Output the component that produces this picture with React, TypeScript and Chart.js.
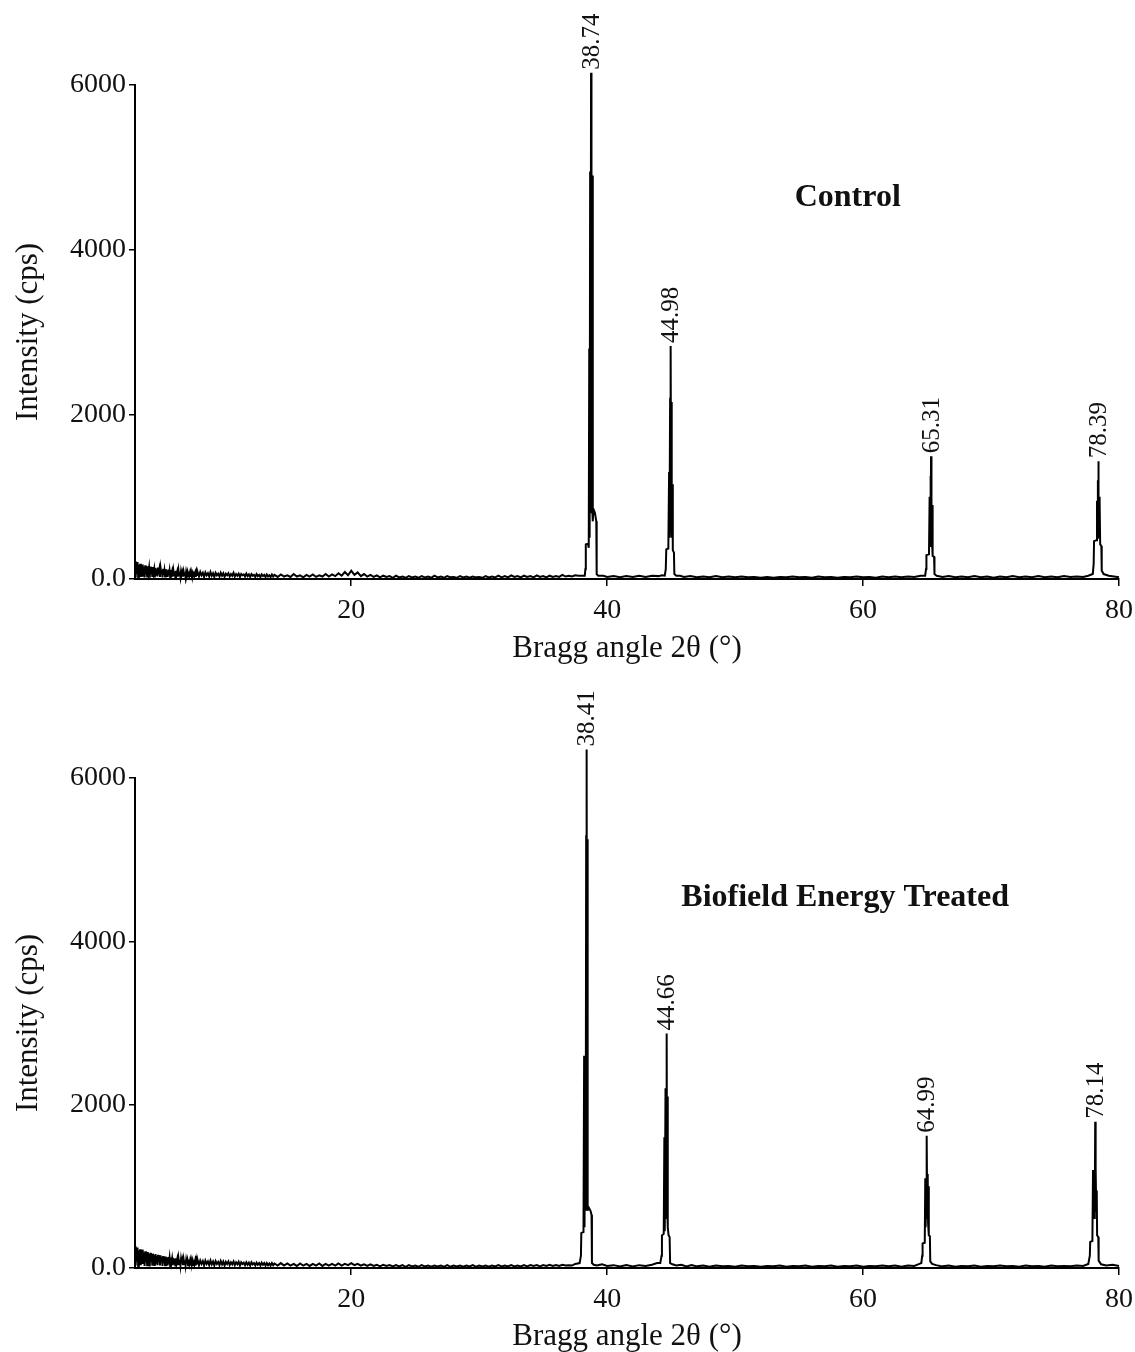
import React, { useEffect, useRef } from 'react';
import { Chart, registerables } from 'chart.js';

Chart.register(...registerables);

const FONT = "'Liberation Serif', 'Times New Roman', Times, serif";

// ---------- shared axis definitions ----------
const xAxisMin = 3.1;
const xAxisMax = 80;
const xTickStep = 20;
const yAxisMax = 6000;
const yTickStep = 2000;
const xTitle = 'Bragg angle 2θ (°)';
const yTitle = 'Intensity (cps)';

// ---------- Control ----------
const controlBackground: [number, number][] = [
  [3.10, 215], [3.15, 20], [3.20, 190], [3.25, 60], [3.30, 205], [3.35, 15], [3.40, 170], [3.45, 90], [3.50, 185], [3.55, 25],
  [3.60, 160], [3.65, 40], [3.70, 175], [3.75, 70], [3.80, 150], [3.85, 20], [3.90, 165], [3.95, 55], [4.00, 140], [4.05, 30],
  [4.10, 155], [4.15, 80], [4.20, 135], [4.25, 15], [4.30, 150], [4.35, 60], [4.40, 130], [4.45, 35], [4.50, 145], [4.55, 75],
  [4.60, 120], [4.65, 20], [4.70, 135], [4.75, 55], [4.80, 125], [4.85, 30], [4.90, 140], [4.95, 65], [5.00, 115], [5.05, 25],
  [5.10, 130], [5.15, 70], [5.20, 110], [5.25, 20], [5.30, 125], [5.35, 50], [5.40, 105], [5.45, 30], [5.50, 120], [5.55, 65],
  [5.60, 100], [5.65, 25], [5.70, 115], [5.75, 45], [5.80, 100], [5.85, 20], [5.90, 110], [5.95, 60], [6.00, 95], [6.05, 30],
  [6.10, 105], [6.15, 50], [6.20, 90], [6.25, 25], [6.30, 100], [6.35, 55], [6.40, 90], [6.45, 30], [6.50, 105], [6.55, 45],
  [6.60, 85], [6.65, 25], [6.70, 95], [6.75, 55], [6.80, 85], [6.85, 30], [6.90, 90], [6.95, 45], [7.00, 80], [7.05, 25],
  [7.10, 90], [7.15, 50], [7.20, 85], [7.25, 30], [7.30, 95], [7.35, 45], [7.40, 80], [7.45, 25], [7.50, 85], [7.55, 50],
  [7.60, 75], [7.65, 30], [7.70, 90], [7.75, 45], [7.80, 75], [7.85, 25], [7.90, 85], [7.95, 50],
  [8.0, 80], [8.1, 30], [8.2, 85], [8.3, 45], [8.4, 75], [8.5, 25], [8.6, 80], [8.7, 45], [8.8, 70], [8.9, 30],
  [9.0, 85], [9.1, 40], [9.2, 70], [9.3, 25], [9.4, 75], [9.5, 45], [9.6, 65], [9.7, 30], [9.8, 75], [9.9, 40],
  [10.0, 70], [10.1, 25], [10.2, 65], [10.3, 45], [10.4, 70], [10.5, 30], [10.6, 60], [10.7, 40], [10.8, 75], [10.9, 30],
  [11.0, 60], [11.1, 40], [11.2, 65], [11.3, 25], [11.4, 60], [11.5, 45], [11.6, 55], [11.7, 30], [11.8, 65], [11.9, 35],
  [12.0, 55], [12.1, 25], [12.2, 60], [12.3, 40], [12.4, 50], [12.5, 25], [12.6, 60], [12.7, 35], [12.8, 50], [12.9, 25],
  [13.0, 55], [13.1, 35], [13.2, 50], [13.3, 25], [13.4, 55], [13.5, 30], [13.6, 45], [13.7, 25], [13.8, 55], [13.9, 30],
  [14.0, 50], [14.25, 25], [14.5, 55], [14.75, 30], [15.0, 45], [15.25, 25], [15.5, 60], [15.75, 30], [16.0, 45], [16.25, 20],
  [16.5, 50], [16.75, 30], [17.0, 55], [17.25, 25], [17.5, 45], [17.75, 30], [18.0, 60], [18.25, 30], [18.5, 55], [18.75, 35],
  [19.0, 70], [19.25, 40], [19.5, 85], [19.75, 45], [20.0, 100], [20.25, 50], [20.5, 80], [20.75, 35], [21.0, 60], [21.25, 30],
  [21.5, 50], [21.75, 25], [22.0, 45], [22.25, 20], [22.5, 40], [22.75, 25], [23.0, 35], [23.25, 15], [23.5, 40], [23.75, 20],
  [24.0, 30], [24.25, 15], [24.5, 35], [24.75, 20], [25.0, 30], [25.25, 15], [25.5, 35], [25.75, 20], [26.0, 30], [26.25, 15],
  [26.5, 40], [26.75, 20], [27.0, 30], [27.25, 15], [27.5, 35], [27.75, 20], [28.0, 25], [28.25, 15], [28.5, 35], [28.75, 20],
  [29.0, 30], [29.25, 15], [29.5, 30], [29.75, 20], [30.0, 25], [30.25, 15], [30.5, 35], [30.75, 20], [31.0, 30], [31.25, 20],
  [31.5, 40], [31.75, 20], [32.0, 35], [32.25, 20], [32.5, 45], [32.75, 25], [33.0, 35], [33.25, 20], [33.5, 40], [33.75, 25],
  [34.0, 35], [34.25, 20], [34.5, 45], [34.75, 25], [35.0, 35], [35.25, 20], [35.5, 40], [35.75, 25], [36.0, 35], [36.25, 25],
  [36.5, 50], [36.75, 30], [37.0, 40], [37.25, 30], [37.5, 45], [37.75, 40],
  [39.7, 40], [40.0, 25], [40.5, 35], [41.0, 20], [41.5, 35], [42.0, 25], [42.5, 40], [43.0, 25], [43.5, 40], [44.0, 35],
  [44.3, 45],
  [45.7, 40], [46.0, 25], [46.5, 35], [47.0, 20], [47.5, 30], [48.0, 20], [48.5, 35], [49.0, 20], [49.5, 30], [50.0, 20],
  [50.5, 30], [51.0, 20], [51.5, 25], [52.0, 15], [52.5, 25], [53.0, 15], [53.5, 25], [54.0, 20], [54.5, 30], [55.0, 20],
  [55.5, 25], [56.0, 15], [56.5, 30], [57.0, 20], [57.5, 25], [58.0, 15], [58.5, 25], [59.0, 20], [59.5, 30], [60.0, 20],
  [60.5, 25], [61.0, 15], [61.5, 30], [62.0, 20], [62.5, 30], [63.0, 20], [63.5, 30], [64.0, 25], [64.5, 40],
  [66.2, 25], [66.7, 35], [67.2, 20], [67.7, 30], [68.2, 20], [68.7, 35], [69.2, 20], [69.7, 30], [70.2, 15], [70.7, 30],
  [71.2, 20], [71.7, 35], [72.2, 20], [72.7, 30], [73.2, 20], [73.7, 35], [74.2, 20], [74.7, 30], [75.2, 20], [75.7, 35],
  [76.2, 25], [76.7, 30], [77.2, 25], [77.6, 40],
  [79.2, 40], [79.6, 30], [80.0, 20],
];

const controlPeaks: [number, number][] = [
  [38.25, 40], [38.3, 120], [38.33, 420], [38.5, 430], [38.56, 380], [38.6, 2800], [38.63, 500], [38.67, 4950],
  [38.7, 800], [38.74, 6150], [38.76, 1000], [38.79, 5000], [38.82, 900], [38.86, 4900], [38.89, 700], [38.93, 850],
  [39.05, 800], [39.15, 700], [39.18, 60], [39.3, 40],
  [44.5, 40], [44.58, 120], [44.62, 360], [44.78, 370], [44.84, 1300], [44.87, 500], [44.92, 2200], [44.94, 600],
  [44.98, 2830], [45.0, 700], [45.03, 2150], [45.06, 500], [45.1, 1150], [45.13, 350], [45.22, 320], [45.25, 60], [45.4, 40],
  [64.85, 40], [64.92, 120], [64.95, 290], [65.15, 300], [65.2, 1000], [65.23, 400], [65.27, 1250], [65.29, 500],
  [65.31, 1490], [65.33, 600], [65.36, 880], [65.39, 450], [65.42, 900], [65.45, 280], [65.55, 270], [65.58, 60], [65.75, 40],
  [77.95, 60], [78.02, 180], [78.05, 460], [78.24, 470], [78.28, 950], [78.31, 500], [78.35, 1200], [78.37, 600],
  [78.39, 1430], [78.41, 700], [78.44, 1000], [78.47, 500], [78.5, 940], [78.53, 420], [78.62, 400], [78.65, 100], [78.8, 60],
];

const controlPeakPositions = [38.74, 44.98, 65.31, 78.39];
const controlPeakTops = [6150, 2830, 1490, 1430];
const controlPeakLabels = ['38.74', '44.98', '65.31', '78.39'];

// ---------- Biofield Energy Treated ----------
const treatedBackground: [number, number][] = [
  [3.10, 265], [3.15, 30], [3.20, 240], [3.25, 80], [3.30, 250], [3.35, 20], [3.40, 215], [3.45, 110], [3.50, 230], [3.55, 35],
  [3.60, 200], [3.65, 60], [3.70, 225], [3.75, 90], [3.80, 190], [3.85, 25], [3.90, 205], [3.95, 70], [4.00, 180], [4.05, 35],
  [4.10, 195], [4.15, 95], [4.20, 170], [4.25, 20], [4.30, 185], [4.35, 75], [4.40, 165], [4.45, 40], [4.50, 175], [4.55, 85],
  [4.60, 155], [4.65, 25], [4.70, 170], [4.75, 65], [4.80, 150], [4.85, 35], [4.90, 160], [4.95, 75], [5.00, 140], [5.05, 30],
  [5.10, 155], [5.15, 80], [5.20, 135], [5.25, 25], [5.30, 145], [5.35, 60], [5.40, 130], [5.45, 35], [5.50, 140], [5.55, 70],
  [5.60, 125], [5.65, 30], [5.70, 135], [5.75, 55], [5.80, 120], [5.85, 25], [5.90, 130], [5.95, 65], [6.00, 115], [6.05, 35],
  [6.10, 125], [6.15, 55], [6.20, 110], [6.25, 30], [6.30, 120], [6.35, 60], [6.40, 105], [6.45, 35], [6.50, 115], [6.55, 50],
  [6.60, 100], [6.65, 30], [6.70, 110], [6.75, 60], [6.80, 100], [6.85, 35], [6.90, 105], [6.95, 50], [7.00, 95], [7.05, 30],
  [7.10, 100], [7.15, 55], [7.20, 95], [7.25, 35], [7.30, 105], [7.35, 50], [7.40, 90], [7.45, 30], [7.50, 95], [7.55, 55],
  [7.60, 90], [7.65, 35], [7.70, 100], [7.75, 50], [7.80, 90], [7.85, 30], [7.90, 150], [7.95, 55],
  [8.0, 95], [8.1, 35], [8.2, 90], [8.3, 50], [8.4, 85], [8.5, 30], [8.6, 90], [8.7, 50], [8.8, 80], [8.9, 35],
  [9.0, 90], [9.1, 45], [9.2, 80], [9.3, 30], [9.4, 85], [9.5, 50], [9.6, 75], [9.7, 35], [9.8, 85], [9.9, 45],
  [10.0, 80], [10.1, 30], [10.2, 75], [10.3, 50], [10.4, 80], [10.5, 35], [10.6, 70], [10.7, 45], [10.8, 80], [10.9, 35],
  [11.0, 70], [11.1, 45], [11.2, 75], [11.3, 30], [11.4, 70], [11.5, 50], [11.6, 65], [11.7, 35], [11.8, 70], [11.9, 40],
  [12.0, 65], [12.1, 30], [12.2, 70], [12.3, 45], [12.4, 60], [12.5, 30], [12.6, 65], [12.7, 40], [12.8, 60], [12.9, 30],
  [13.0, 65], [13.1, 40], [13.2, 60], [13.3, 30], [13.4, 60], [13.5, 35], [13.6, 55], [13.7, 30], [13.8, 60], [13.9, 35],
  [14.0, 55], [14.25, 30], [14.5, 60], [14.75, 30], [15.0, 55], [15.25, 30], [15.5, 50], [15.75, 25], [16.0, 55], [16.25, 30],
  [16.5, 50], [16.75, 25], [17.0, 50], [17.25, 30], [17.5, 55], [17.75, 25], [18.0, 50], [18.25, 30], [18.5, 50], [18.75, 30],
  [19.0, 55], [19.25, 30], [19.5, 50], [19.75, 35], [20.0, 60], [20.25, 35], [20.5, 50], [20.75, 30], [21.0, 45], [21.25, 25],
  [21.5, 45], [21.75, 25], [22.0, 40], [22.25, 20], [22.5, 40], [22.75, 25], [23.0, 35], [23.25, 20], [23.5, 35], [23.75, 20],
  [24.0, 35], [24.25, 15], [24.5, 35], [24.75, 20], [25.0, 30], [25.25, 15], [25.5, 35], [25.75, 20], [26.0, 30], [26.25, 15],
  [26.5, 30], [26.75, 20], [27.0, 30], [27.25, 15], [27.5, 35], [27.75, 15], [28.0, 30], [28.25, 20], [28.5, 30], [28.75, 15],
  [29.0, 30], [29.25, 20], [29.5, 35], [29.75, 15], [30.0, 30], [30.25, 20], [30.5, 30], [30.75, 15], [31.0, 30], [31.25, 20],
  [31.5, 35], [31.75, 20], [32.0, 30], [32.25, 20], [32.5, 35], [32.75, 20], [33.0, 30], [33.25, 20], [33.5, 35], [33.75, 20],
  [34.0, 35], [34.25, 25], [34.5, 35], [34.75, 20], [35.0, 35], [35.25, 25], [35.5, 40], [35.75, 25], [36.0, 35], [36.25, 25],
  [36.5, 40], [36.75, 30], [37.0, 35], [37.25, 30], [37.5, 50],
  [39.2, 30], [39.6, 45], [40.0, 25], [40.5, 35], [41.0, 20], [41.5, 35], [42.0, 20], [42.5, 35], [43.0, 25], [43.5, 40],
  [43.9, 60],
  [45.4, 30], [45.8, 40], [46.2, 20], [46.6, 35], [47.0, 20], [47.5, 30], [48.0, 15], [48.5, 30], [49.0, 20], [49.5, 25],
  [50.0, 15], [50.5, 30], [51.0, 20], [51.5, 25], [52.0, 15], [52.5, 25], [53.0, 20], [53.5, 30], [54.0, 15], [54.5, 25],
  [55.0, 20], [55.5, 30], [56.0, 15], [56.5, 25], [57.0, 20], [57.5, 30], [58.0, 15], [58.5, 25], [59.0, 20], [59.5, 30],
  [60.0, 15], [60.5, 25], [61.0, 20], [61.5, 30], [62.0, 20], [62.5, 30], [63.0, 15], [63.5, 30], [64.0, 25], [64.3, 45],
  [65.7, 35], [66.2, 20], [66.7, 30], [67.2, 15], [67.7, 25], [68.2, 20], [68.7, 30], [69.2, 15], [69.7, 25], [70.2, 20],
  [70.7, 30], [71.2, 20], [71.7, 25], [72.2, 15], [72.7, 30], [73.2, 20], [73.7, 25], [74.2, 15], [74.7, 30], [75.2, 20],
  [75.7, 25], [76.2, 20], [76.7, 30], [77.2, 25],
  [79.0, 30], [79.5, 40], [80.0, 25],
];

const treatedPeaks: [number, number][] = [
  [37.85, 60], [37.95, 150], [37.98, 430], [38.15, 440], [38.2, 2600], [38.23, 500], [38.29, 2550], [38.32, 700],
  [38.36, 5300], [38.38, 900], [38.41, 6350], [38.43, 1000], [38.46, 5250], [38.49, 700], [38.53, 750], [38.7, 700],
  [38.78, 650], [38.81, 60], [38.95, 40],
  [44.15, 60], [44.25, 150], [44.28, 400], [44.42, 420], [44.47, 1600], [44.5, 450], [44.56, 2200], [44.58, 600],
  [44.62, 2150], [44.64, 700], [44.66, 2870], [44.68, 800], [44.72, 2100], [44.75, 500], [44.8, 400], [44.88, 380],
  [44.92, 60], [45.1, 45],
  [64.55, 60], [64.62, 150], [64.65, 300], [64.82, 310], [64.86, 1100], [64.89, 500], [64.93, 1000], [64.95, 600],
  [64.99, 1620], [65.01, 700], [65.05, 1150], [65.08, 550], [65.12, 1000], [65.15, 400], [65.22, 390], [65.25, 80], [65.4, 50],
  [77.6, 50], [77.72, 150], [77.75, 320], [77.92, 330], [77.97, 1200], [78.0, 600], [78.05, 1150], [78.08, 700],
  [78.11, 940], [78.12, 600], [78.14, 1790], [78.16, 800], [78.19, 1220], [78.22, 700], [78.26, 950], [78.29, 400],
  [78.38, 380], [78.41, 90], [78.6, 45],
];

const treatedPeakPositions = [38.41, 44.66, 64.99, 78.14];
const treatedPeakTops = [6350, 2870, 1620, 1790];
const treatedPeakLabels = ['38.41', '44.66', '64.99', '78.14'];

type Props = {
  background: [number, number][];
  peaks: [number, number][];
  peakPos: number[];
  peakTop: number[];
  peakLabels: string[];
  name: string;
  nameX: number;
  nameY: number;
  top: number;
  padTop: number;
  plotH: number;
  axisH: number;
};

function XrdChart(p: Props) {
  const ref = useRef<HTMLCanvasElement>(null);
  const height = p.padTop + p.plotH + p.axisH;

  useEffect(() => {
    const canvas = ref.current!;
    const data = [...p.background, ...p.peaks]
      .sort((a, b) => a[0] - b[0])
      .map(([x, y]) => ({ x, y }));

    const annot = {
      id: 'annot',
      afterDatasetsDraw(chart: any) {
        const { ctx } = chart;
        const xs = chart.scales.x;
        const ys = chart.scales.y;
        ctx.save();
        ctx.fillStyle = '#111';
        ctx.font = `25px ${FONT}`;
        ctx.textAlign = 'left';
        ctx.textBaseline = 'middle';
        p.peakPos.forEach((px, i) => {
          const X = xs.getPixelForValue(px);
          const Y = ys.getPixelForValue(p.peakTop[i]) - 3;
          ctx.save();
          ctx.translate(X, Y);
          ctx.rotate(-Math.PI / 2);
          ctx.fillText(p.peakLabels[i], 0, 1);
          ctx.restore();
        });
        ctx.font = `bold 32px ${FONT}`;
        ctx.textAlign = 'center';
        ctx.fillText(p.name, xs.getPixelForValue(p.nameX), ys.getPixelForValue(p.nameY));
        ctx.restore();
      },
    };

    const chart = new Chart(canvas, {
      type: 'line',
      data: {
        datasets: [
          {
            data,
            borderColor: '#000',
            borderWidth: 2,
            pointRadius: 0,
            tension: 0,
            fill: false,
            clip: false as any,
          } as any,
        ],
      },
      options: {
        responsive: false,
        maintainAspectRatio: false,
        animation: false,
        layout: { padding: { top: p.padTop, left: 0, right: 16, bottom: 0 } },
        plugins: { legend: { display: false }, tooltip: { enabled: false } },
        scales: {
          x: {
            type: 'linear',
            min: xAxisMin,
            max: xAxisMax,
            afterFit: (s: any) => {
              s.height = p.axisH;
              s.paddingLeft = 0;
              s.paddingRight = 0;
            },
            ticks: {
              stepSize: xTickStep,
              includeBounds: false,
              color: '#111',
              font: { family: FONT, size: 28 },
              padding: 8,
              maxRotation: 0,
            },
            grid: { drawOnChartArea: false, drawTicks: true, tickLength: 7, color: '#000', lineWidth: 1.5 },
            border: { display: true, color: '#000', width: 2 },
            title: {
              display: true,
              text: xTitle,
              color: '#111',
              font: { family: FONT, size: 31 },
              padding: { top: 0, bottom: 0 },
            },
          },
          y: {
            min: 0,
            max: yAxisMax,
            afterFit: (s: any) => {
              s.width = 135;
            },
            ticks: {
              stepSize: yTickStep,
              color: '#111',
              font: { family: FONT, size: 28 },
              padding: 3,
              callback: (v: any) => (v === 0 ? '0.0' : String(v)),
            },
            grid: { drawOnChartArea: false, drawTicks: true, tickLength: 6, color: '#000', lineWidth: 1.5 },
            border: { display: true, color: '#000', width: 2 },
            title: {
              display: true,
              text: yTitle,
              color: '#111',
              font: { family: FONT, size: 31 },
              padding: { top: 10, bottom: 0 },
            },
          },
        },
      },
      plugins: [annot],
    } as any);
    return () => chart.destroy();
  }, []);

  return (
    <canvas
      ref={ref}
      width={1135}
      height={height}
      style={{ position: 'absolute', left: 0, top: p.top, display: 'block' }}
    />
  );
}

export default function App() {
  return (
    <div
      style={{
        position: 'absolute',
        left: 0,
        top: 0,
        width: 1135,
        height: 1352,
        overflow: 'hidden',
        background: '#fff',
      }}
    >
      <XrdChart
        background={controlBackground}
        peaks={controlPeaks}
        peakPos={controlPeakPositions}
        peakTop={controlPeakTops}
        peakLabels={controlPeakLabels}
        name="Control"
        nameX={58.8}
        nameY={4630}
        top={0}
        padTop={85}
        plotH={494}
        axisH={88}
      />
      <XrdChart
        background={treatedBackground}
        peaks={treatedPeaks}
        peakPos={treatedPeakPositions}
        peakTop={treatedPeakTops}
        peakLabels={treatedPeakLabels}
        name="Biofield Energy Treated"
        nameX={58.6}
        nameY={4530}
        top={680}
        padTop={98}
        plotH={490}
        axisH={87}
      />
    </div>
  );
}
